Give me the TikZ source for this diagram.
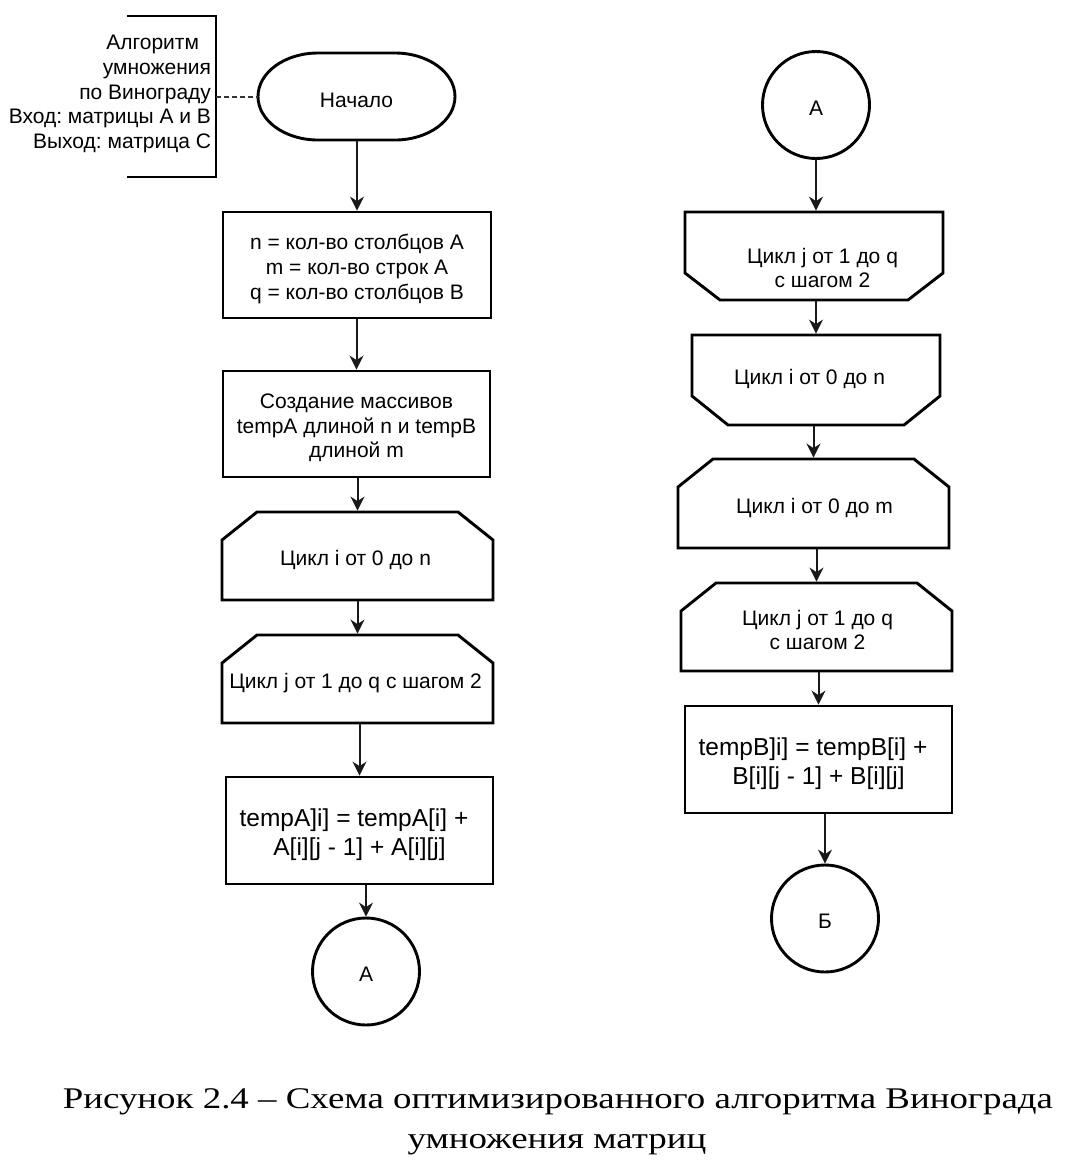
\documentclass[tikz,border=0pt]{standalone}
\usepackage{fontspec}
\setmainfont{Liberation Sans}
\newfontfamily\capfont[FakeStretch=1.23]{Liberation Serif}
\usetikzlibrary{arrows.meta}
\frenchspacing
\newcommand{\mainfs}{\fontsize{21}{24.6}\selectfont}
\newcommand{\bigfs}{\fontsize{24.5}{28.5}\selectfont}
\newcommand{\chamtop}[3]{\draw[shapeline] ([xshift=#2]#1.north west) -- ([xshift=-#2]#1.north east) -- ([yshift=-#3]#1.north east) -- (#1.south east) -- (#1.south west) -- ([yshift=-#3]#1.north west) -- cycle;}
\newcommand{\chambot}[3]{\draw[shapeline] (#1.north west) -- (#1.north east) -- ([yshift=#3]#1.south east) -- ([xshift=-#2]#1.south east) -- ([xshift=#2]#1.south west) -- ([yshift=#3]#1.south west) -- cycle;}
\tikzset{
  shapeline/.style={line width=2.9pt, draw=black, line join=miter},
  boxnode/.style={rectangle, shapeline, inner sep=0pt, outer sep=0pt},
  loopnode/.style={rectangle, draw=none, inner sep=0pt, outer sep=0pt},
  connnode/.style={circle, shapeline, minimum size=107pt, inner sep=0pt, outer sep=0pt},
  txt/.style={font=\mainfs, align=center, inner sep=0pt, outer sep=0pt},
  bigtxt/.style={font=\bigfs, align=center, inner sep=0pt, outer sep=0pt},
  arr/.style={line width=2pt, draw=black!90, shorten <=1.4pt, shorten >=1.4pt, -{Stealth[length=14pt, width=14pt, inset=4.5pt]}},
  dashline/.style={line width=2pt, draw=black!80, dash pattern=on 5pt off 3pt},
  capstyle/.style={font=\capfont\fontsize{30}{36}\selectfont, inner sep=0pt, anchor=base}
}
\begin{document}
\begin{tikzpicture}[x=1pt,y=-1pt]
\fill[white] (0,0) rectangle (1066,1176);
\useasboundingbox (0,0) rectangle (1066,1176);

% ---------- left column ----------
\node[loopnode, minimum width=197pt, minimum height=87pt] (start) at (356.5,96.5) {};
\draw[shapeline] ([xshift=-38.5pt]start.north) -- ([xshift=38.5pt]start.north)
  arc[start angle=90, end angle=-90, x radius=60pt, y radius=43.5pt]
  -- ([xshift=-38.5pt]start.south)
  arc[start angle=270, end angle=90, x radius=60pt, y radius=43.5pt] -- cycle;
\node[txt] (startt) at ([yshift=-4pt]start.center) {Начало};

\node[loopnode, minimum width=89pt, minimum height=161pt] (cmt) at (171.5,96.5) {};
\draw[shapeline] (cmt.north west) -- (cmt.north east) -- (cmt.south east) -- (cmt.south west);
\node[txt, align=right, anchor=east] (ctext) at (211,94)
  {Алгоритм\hspace*{12pt}\\умножения\\по Винограду\\Вход: матрицы A и B\\Выход: матрица C};
\draw[dashline] (cmt.east) -- (start.west);

\node[boxnode, minimum width=268pt, minimum height=106pt] (b1) at (357,265) {};
\node[txt] (b1t) at ([yshift=-4pt]b1.center) {n = кол-во столбцов A\\m = кол-во строк A\\q = кол-во столбцов B};
\node[boxnode, minimum width=267pt, minimum height=106pt] (b2) at (356.5,424) {};
\node[txt] (b2t) at ([yshift=-4pt]b2.center) {Создание массивов\\tempA длиной n и tempB\\длиной m};
\node[loopnode, minimum width=271pt, minimum height=88pt] (l1) at (357.5,556) {};
\chamtop{l1}{35pt}{28pt}
\node[txt] (l1t) at ([xshift=-2pt,yshift=-4pt]l1.center) {Цикл i от 0 до n};
\node[loopnode, minimum width=271pt, minimum height=88pt] (l2) at (357.5,679) {};
\chamtop{l2}{35pt}{28pt}
\node[txt] (l2t) at ([xshift=-2pt,yshift=-4pt]l2.center) {Цикл j от 1 до q с шагом 2};
\node[boxnode, minimum width=267pt, minimum height=107pt] (b3) at (359.5,830.5) {};
\node[bigtxt] (b3t) at ([yshift=-4pt]b3.center) {tempA]i] = tempA[i] +\hspace*{0.45em}\\A[i][j - 1] + A[i][j]};
\node[connnode] (cA1) at (366,971.5) {};
\node[txt] (cA1t) at ([yshift=-3pt]cA1.center) {А};

\draw[arr] (start.south -| b1.north) -- (b1.north);
\draw[arr] (b1.south -| b2.north) -- (b2.north);
\draw[arr] (b2.south -| l1.north) -- (l1.north);
\draw[arr] (l1.south -| l2.north) -- (l2.north);
\draw[arr] (l2.south -| b3.north) -- (b3.north);
\draw[arr] (b3.south -| cA1.north) -- (cA1.north);

% ---------- right column ----------
\node[connnode] (cA2) at (816,105) {};
\node[txt] (cA2t) at ([yshift=-3pt]cA2.center) {А};
\node[loopnode, minimum width=258pt, minimum height=88pt] (r1) at (814,256) {};
\chambot{r1}{35pt}{27pt}
\node[txt] (r1t) at ([xshift=8.5pt,yshift=-12pt]r1.center) {Цикл j от 1 до q\\с шагом 2};
\node[loopnode, minimum width=248pt, minimum height=90pt] (r2) at (816,380) {};
\chambot{r2}{36pt}{29pt}
\node[txt] (r2t) at ([xshift=-6.5pt,yshift=1.5pt]r2.center) {Цикл i от 0 до n};
\node[loopnode, minimum width=271pt, minimum height=89pt] (r3) at (813.5,503.5) {};
\chamtop{r3}{35pt}{28pt}
\node[txt] (r3t) at ([xshift=1pt,yshift=-4pt]r3.center) {Цикл i от 0 до m};
\node[loopnode, minimum width=271pt, minimum height=88pt] (r4) at (816.5,627) {};
\chamtop{r4}{35pt}{28pt}
\node[txt] (r4t) at ([xshift=1pt,yshift=-3pt]r4.center) {Цикл j от 1 до q\\с шагом 2};
\node[boxnode, minimum width=267pt, minimum height=107pt] (bR) at (818.5,759.5) {};
\node[bigtxt] (bRt) at ([yshift=-4pt]bR.center) {tempB]i] = tempB[i] +\hspace*{0.45em}\\B[i][j - 1] + B[i][j]};
\node[connnode] (cB) at (825,918.5) {};
\node[txt] (cBt) at ([yshift=-3pt]cB.center) {Б};

\draw[arr] (cA2.south) -- (cA2.south |- r1.north);
\draw[arr] (r1.south -| r2.north) -- (r2.north);
\draw[arr] (r2.south -| r3.north) -- (r3.north);
\draw[arr] (r3.south -| r4.north) -- (r4.north);
\draw[arr] (r4.south -| bR.north) -- (bR.north);
\draw[arr] (bR.south -| cB.north) -- (cB.north);

% ---------- caption ----------
\node[capstyle] (cap1) at (558,1108) {Рисунок 2.4 – Схема оптимизированного алгоритма Винограда};
\node[capstyle] (cap2) at (557,1148) {умножения матриц};
\end{tikzpicture}
\end{document}
